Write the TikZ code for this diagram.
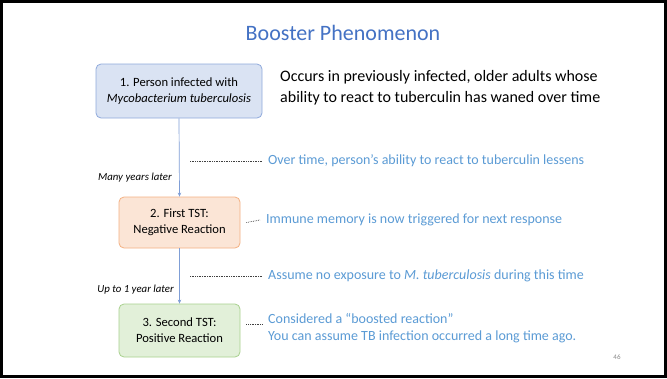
\documentclass[tikz,border=0pt]{standalone}
\usepackage{fontspec}
\setmainfont{Carlito}
\usetikzlibrary{arrows.meta}
\definecolor{titleblue}{HTML}{4472C4}
\definecolor{noteblue}{HTML}{5B9BD5}
\definecolor{b1fill}{HTML}{DAE3F3}
\definecolor{b1draw}{HTML}{8FAADC}
\definecolor{b2fill}{HTML}{FBE5D6}
\definecolor{b2draw}{HTML}{F4B183}
\definecolor{b3fill}{HTML}{E2F0D9}
\definecolor{b3draw}{HTML}{A9D18E}
\definecolor{linkc}{HTML}{7F9ED6}
\tikzset{
  x=1pt,y=-1pt,
  stepbox/.style={draw, rounded corners=5pt, line width=0.8pt, align=center, font=\fontsize{12.6}{16}\selectfont, inner sep=0pt},
  note/.style={anchor=west, text=noteblue, font=\fontsize{14}{16.5}\selectfont, inner sep=0pt, align=left},
  when/.style={anchor=east, font=\fontsize{10.8}{12}\selectfont\itshape, inner sep=0pt},
  dots/.style={densely dotted, line width=0.7pt, draw=black!75},
  link/.style={draw=linkc, line width=0.7pt, -{Stealth[length=4pt,width=3.5pt]}}
}
\begin{document}
\begin{tikzpicture}
\useasboundingbox (0,0) rectangle (667,378);
\fill[white] (0,0) rectangle (667,378);
\draw[line width=2.5pt] (1.5,1.5) rectangle (665.5,376.5);
\node[text=titleblue, font=\fontsize{22}{26}\selectfont] (title) at (343,33) {Booster Phenomenon};

\node[stepbox, fill=b1fill, draw=b1draw, minimum width=166pt, minimum height=54pt] (s1) at (179,91) {1. Person infected with\\\textit{Mycobacterium tuberculosis}};
\node[stepbox, fill=b2fill, draw=b2draw, minimum width=121pt, minimum height=51pt] (s2) at (179.5,222.5) {2. First TST:\\Negative Reaction};
\node[stepbox, fill=b3fill, draw=b3draw, minimum width=121pt, minimum height=53pt] (s3) at (179.5,330.5) {3. Second TST:\\Positive Reaction};

\draw[link] (s1.south) -- (s2.north);
\draw[link] (s2.south) -- (s3.north);

\node[when] (w1) at (172,178) {Many years later};
\node[when] (w2) at (174,290) {Up to 1 year later};

\node[anchor=west, inner sep=0pt, align=left, font=\fontsize{16}{21}\selectfont] (intro) at (280,88) {Occurs in previously infected, older adults whose\\ability to react to tuberculin has waned over time};

\coordinate (d1) at (190,161);
\node[note] (n1) at (268,161) {Over time, person’s ability to react to tuberculin lessens};
\draw[dots] (d1) -- ([xshift=-6pt]n1.west);

\node[note] (n2) at (266,220) {Immune memory is now triggered for next response};
\draw[dots] ([xshift=6pt]s2.east) -- ([xshift=-6pt]n2.west);

\coordinate (d3) at (190,276);
\node[note] (n3) at (268,276) {Assume no exposure to \textit{M. tuberculosis} during this time};
\draw[dots] (d3) -- ([xshift=-6pt]n3.west);

\node[note] (n4) at (268,328) {Considered a “boosted reaction”\\You can assume TB infection occurred a long time ago.};
\draw[dots] ([xshift=6pt]s3.east|-0,324) coordinate (d4) -- (262,324);

\node[text=black!45, font=\fontsize{7}{8}\selectfont] (pg) at (617,357) {46};
\end{tikzpicture}
\end{document}
